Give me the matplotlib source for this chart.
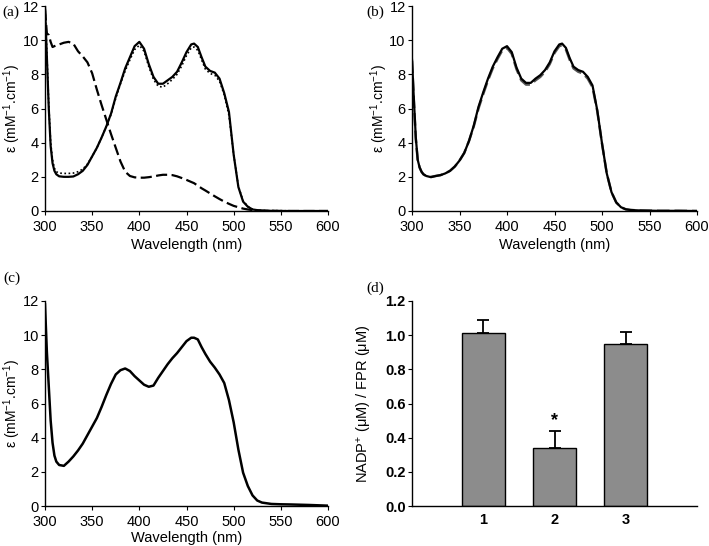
import numpy as np
import matplotlib
matplotlib.use('Agg')
import matplotlib.pyplot as plt

plt.rcParams['font.family'] = ['Liberation Sans', 'DejaVu Sans']
plt.rcParams['mathtext.fontset'] = 'custom'
plt.rcParams['mathtext.rm'] = 'Liberation Sans'
plt.rcParams['mathtext.it'] = 'Liberation Sans:italic'

# wavelength grid (nm)
wl = [300, 302, 304, 306, 308, 310, 312, 315, 320, 325, 330, 335, 340, 345, 350,
      355, 360, 365, 370, 375, 380, 385, 390, 395, 400, 405, 410, 415, 420, 425,
      430, 435, 440, 445, 450, 455, 458, 462, 466, 470, 475, 480, 485, 490, 495,
      500, 505, 510, 515, 520, 525, 530, 540, 550, 560, 580, 600]

# panel (a)
a_solid = [12.0, 9.0, 6.0, 3.8, 2.8, 2.35, 2.15, 2.03, 2.0, 2.0, 2.02, 2.15, 2.35, 2.7, 3.2,
           3.7, 4.3, 4.95, 5.7, 6.7, 7.5, 8.35, 9.0, 9.65, 9.9, 9.5, 8.6, 7.85, 7.45, 7.45,
           7.65, 7.85, 8.15, 8.7, 9.3, 9.75, 9.8, 9.6, 9.0, 8.45, 8.2, 8.1, 7.75, 6.9, 5.8,
           3.3, 1.4, 0.55, 0.25, 0.09, 0.05, 0.02, 0.01, 0.0, 0.0, 0.0, 0.0]
a_dotted = [12.0, 9.2, 6.2, 4.0, 3.0, 2.5, 2.3, 2.22, 2.2, 2.2, 2.22, 2.3, 2.45, 2.75, 3.2,
            3.7, 4.3, 4.95, 5.65, 6.6, 7.45, 8.2, 8.85, 9.45, 9.7, 9.35, 8.45, 7.7, 7.3, 7.25,
            7.45, 7.7, 8.0, 8.5, 9.1, 9.55, 9.6, 9.4, 8.85, 8.3, 8.05, 7.95, 7.6, 6.8, 5.6,
            3.3, 1.45, 0.6, 0.27, 0.1, 0.05, 0.03, 0.02, 0.02, 0.01, 0.01, 0.0]
a_dashed = [11.8, 10.4, 10.3, 9.9, 9.6, 9.65, 9.7, 9.75, 9.85, 9.9, 9.8, 9.35, 9.05, 8.7, 8.06,
            7.1, 6.2, 5.35, 4.5, 3.7, 2.9, 2.3, 2.05, 1.97, 1.95, 1.95, 1.98, 2.02, 2.08, 2.12,
            2.12, 2.1, 2.03, 1.93, 1.82, 1.7, 1.63, 1.48, 1.33, 1.2, 1.03, 0.86, 0.7, 0.55, 0.42,
            0.3, 0.22, 0.14, 0.09, 0.05, 0.03, 0.02, 0.01, 0.0, 0.0, 0.0, 0.0]

# panel (b)
b_solid = [8.85, 6.5, 4.3, 3.0, 2.55, 2.3, 2.15, 2.05, 1.98, 2.05, 2.1, 2.2, 2.35, 2.6, 2.95,
           3.4, 4.1, 5.0, 6.1, 6.95, 7.75, 8.45, 9.0, 9.5, 9.65, 9.3, 8.4, 7.75, 7.5, 7.5,
           7.75, 7.95, 8.25, 8.7, 9.35, 9.75, 9.8, 9.55, 8.95, 8.45, 8.25, 8.15, 7.85, 7.35, 5.9,
           3.96, 2.2, 1.1, 0.5, 0.22, 0.1, 0.06, 0.03, 0.02, 0.01, 0.01, 0.0]
b_dashed = [8.8, 6.4, 4.2, 3.0, 2.55, 2.3, 2.15, 2.05, 2.0, 2.05, 2.1, 2.2, 2.35, 2.6, 2.95,
            3.4, 4.1, 4.95, 6.0, 6.85, 7.65, 8.35, 8.9, 9.4, 9.55, 9.2, 8.3, 7.65, 7.4, 7.4,
            7.65, 7.85, 8.15, 8.6, 9.25, 9.65, 9.7, 9.45, 8.85, 8.35, 8.15, 8.05, 7.75, 7.25, 5.85,
            3.95, 2.2, 1.1, 0.5, 0.22, 0.1, 0.06, 0.03, 0.02, 0.01, 0.01, 0.0]

# panel (c)
c_solid = [11.8, 9.0, 7.0, 5.0, 3.7, 2.95, 2.6, 2.4, 2.35, 2.6, 2.9, 3.25, 3.65, 4.15, 4.65,
           5.15, 5.8, 6.5, 7.15, 7.7, 7.95, 8.05, 7.9, 7.6, 7.35, 7.1, 6.98, 7.05, 7.5, 7.9,
           8.3, 8.65, 8.95, 9.3, 9.65, 9.85, 9.85, 9.75, 9.3, 8.9, 8.45, 8.1, 7.7, 7.2, 6.2,
           4.9, 3.3, 1.95, 1.17, 0.62, 0.32, 0.2, 0.12, 0.1, 0.09, 0.06, 0.02]

# panel (d)
bar_labels = ['1', '2', '3']
bar_vals = [1.01, 0.34, 0.95]
bar_err = [0.08, 0.10, 0.07]


fig = plt.figure(figsize=(7.09, 5.46), dpi=100)
W, H = 709.0, 546.0

def make_ax(l, t, r, b):
    ax = fig.add_axes([l / W, 1 - b / H, (r - l) / W, (b - t) / H])
    for s in ['top', 'right']:
        ax.spines[s].set_visible(False)
    for s in ['left', 'bottom']:
        ax.spines[s].set_linewidth(1.0)
    ax.tick_params(direction='out', length=3, width=0.8, labelsize=10.5, pad=1.5)
    ax.tick_params(axis='x', pad=3.5)
    return ax

def spectrum_axes(ax, xl_y):
    ax.set_xlim(300, 600)
    ax.set_ylim(0, 12)
    ax.set_xticks([300, 350, 400, 450, 500, 550, 600])
    ax.set_yticks([0, 2, 4, 6, 8, 10, 12])
    ax.set_xlabel('Wavelength (nm)', fontsize=10.5)
    ax.set_ylabel(r'ε (mM$^{\mathregular{-1}}$.cm$^{\mathregular{-1}}$)', fontsize=10)
    ax.xaxis.set_label_coords(0.5, xl_y)
    ax.yaxis.set_label_coords(-0.078, 0.5)

ax1 = make_ax(45, 6, 328, 211)
ax1.plot(wl, a_solid, color='black', lw=1.6)
ax1.plot(wl, a_dotted, color='black', lw=1.2, ls=(0, (1, 1.5)))
ax1.plot(wl, a_dashed, color='black', lw=1.6, ls=(0, (5, 2)))
spectrum_axes(ax1, -0.13)

ax2 = make_ax(412, 6, 697, 211)
ax2.plot(wl, b_dashed, color='#555555', lw=1.8, ls=(0, (5, 2)))
ax2.plot(wl, b_solid, color='black', lw=1.6)
spectrum_axes(ax2, -0.13)

ax3 = make_ax(45, 301, 328, 506)
ax3.plot(wl, c_solid, color='black', lw=1.8)
spectrum_axes(ax3, -0.12)

ax4 = make_ax(412, 301, 697, 506)
xpos = np.arange(1, len(bar_vals) + 1)
ax4.bar(xpos, bar_vals, width=0.6, color='#8c8c8c', edgecolor='black', linewidth=1.0,
        yerr=[[0] * len(bar_err), bar_err],
        error_kw=dict(ecolor='black', elinewidth=1.3, capsize=4, capthick=1.3))
ax4.text(2, bar_vals[1] + bar_err[1] + 0.01, '*', ha='center', va='bottom',
         fontsize=13, fontweight='bold')
ax4.set_xlim(0, 4)
ax4.set_ylim(0, 1.2)
ax4.set_xticks(xpos)
ax4.set_xticklabels(bar_labels, fontweight='bold')
ax4.set_yticks([0.0, 0.2, 0.4, 0.6, 0.8, 1.0, 1.2])
ax4.set_yticklabels(['0.0', '0.2', '0.4', '0.6', '0.8', '1.0', '1.2'], fontweight='bold')
ax4.tick_params(axis='x', length=0, pad=5)
ax4.set_ylabel(r'NADP$^{\mathregular{+}}$ (μM) / FPR (μM)', fontsize=10.5)
ax4.yaxis.set_label_coords(-0.133, 0.5)

for txt, x, y in [('(a)', 2, 12), ('(b)', 366, 12), ('(c)', 3, 278), ('(d)', 366, 288)]:
    fig.text(x / W, 1 - y / H, txt, ha='left', va='center', fontsize=11,
             family='Liberation Serif')

fig.savefig('out.png', dpi=100)
